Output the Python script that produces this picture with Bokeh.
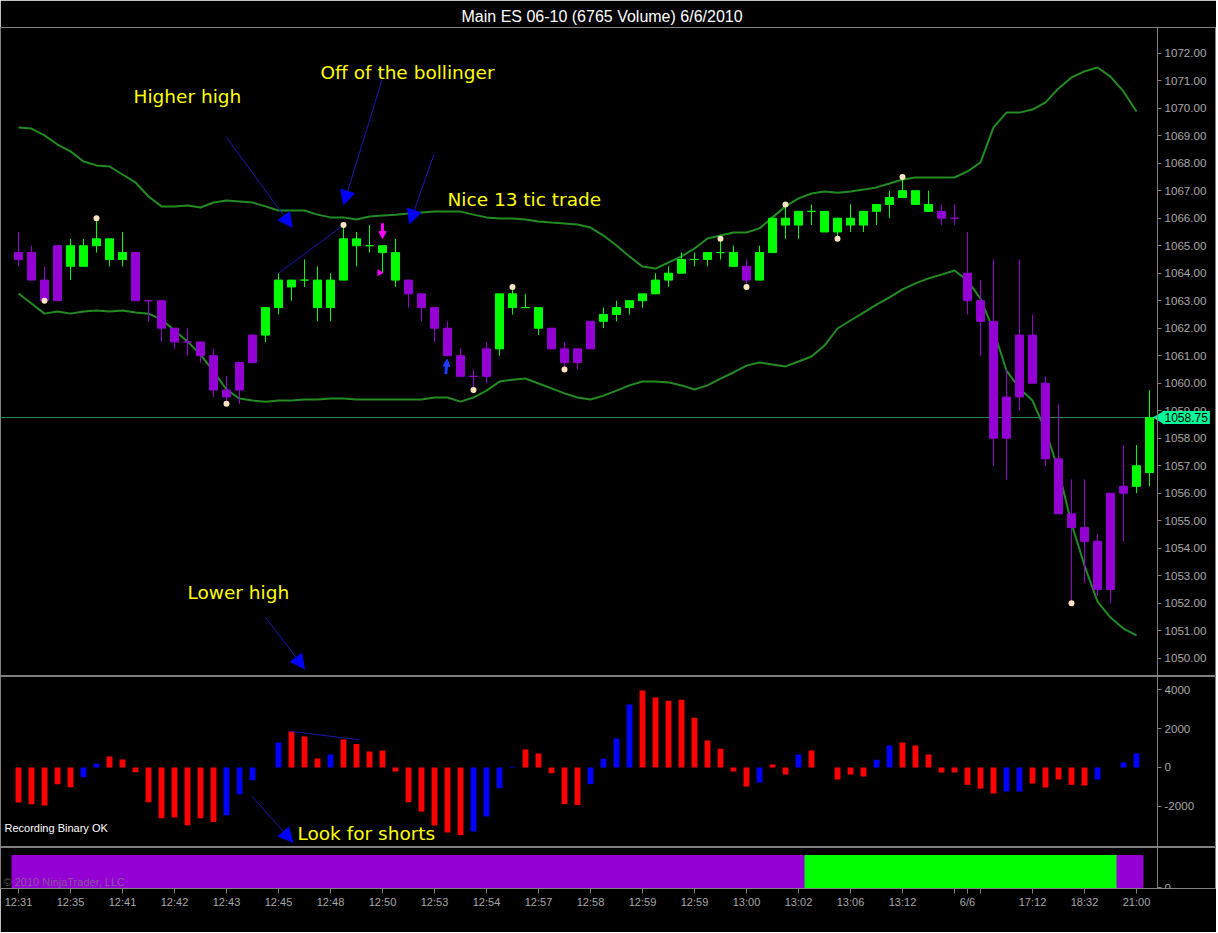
import math
from bokeh.plotting import figure
from bokeh.models import (ColumnDataSource, Range1d, FixedTicker, PrintfTickFormatter,
                          Label, Arrow, NormalHead)
from bokeh.layouts import column
from bokeh.core.properties import value
from bokeh.embed import file_html
from bokeh.resources import INLINE

# ---------------- data ----------------
title_text = "Main ES 06-10 (6765 Volume)  6/6/2010"

opens = [1064.75, 1064.75, 1063.75, 1065.0, 1064.25, 1064.25, 1065.0, 1064.5, 1064.5, 1064.75,
         1063.0, 1063.0, 1062.0, 1061.5, 1061.5, 1061.0, 1059.75, 1060.75, 1061.75, 1061.75,
         1062.75, 1063.5, 1063.75, 1062.75, 1062.75, 1063.75, 1065.0, 1065.0, 1064.75, 1063.75,
         1063.75, 1063.25, 1062.75, 1062.0, 1061.0, 1060.25, 1061.25, 1061.25, 1062.75, 1062.75,
         1062.0, 1062.0, 1061.25, 1061.25, 1062.25, 1062.25, 1062.5, 1062.75, 1063.0, 1063.25,
         1063.75, 1064.0, 1064.5, 1064.5, 1064.75, 1064.25, 1064.25, 1063.75, 1064.75, 1065.75,
         1065.75, 1066.25, 1065.5, 1065.5, 1065.75, 1065.75, 1066.25, 1066.5, 1066.75, 1066.5,
         1066.25, 1066.25, 1066.0, 1064.0, 1063.0, 1062.25, 1059.5, 1061.75, 1061.75, 1060.0,
         1057.25, 1055.25, 1054.75, 1054.25, 1056.0, 1056.25, 1056.25, 1056.75]
highs = [1065.5, 1065.0, 1064.25, 1065.0, 1065.25, 1065.25, 1066.0, 1065.25, 1065.5, 1064.75,
         1063.0, 1063.0, 1062.0, 1062.0, 1061.5, 1061.25, 1060.25, 1060.75, 1061.75, 1062.75,
         1064.0, 1063.75, 1064.5, 1064.25, 1064.0, 1065.75, 1065.5, 1065.75, 1065.0, 1065.25,
         1063.75, 1063.25, 1062.75, 1062.25, 1061.25, 1060.5, 1061.5, 1063.25, 1063.5, 1063.25,
         1062.75, 1062.0, 1061.5, 1061.25, 1062.25, 1062.75, 1063.0, 1063.0, 1063.25, 1064.0,
         1064.25, 1064.75, 1064.75, 1064.75, 1065.25, 1065.0, 1064.5, 1065.0, 1066.0, 1066.5,
         1066.25, 1066.5, 1066.25, 1066.0, 1066.5, 1066.25, 1066.5, 1067.0, 1067.5, 1067.0,
         1067.0, 1066.5, 1066.5, 1065.5, 1063.75, 1064.5, 1060.5, 1064.5, 1062.5, 1060.25,
         1059.25, 1056.5, 1056.5, 1054.5, 1056.0, 1057.75, 1057.75, 1059.75]
lows = [1064.25, 1063.75, 1063.0, 1063.0, 1063.75, 1064.25, 1064.75, 1064.25, 1064.25, 1063.0,
        1062.25, 1061.5, 1061.25, 1061.0, 1060.75, 1059.5, 1059.25, 1059.25, 1060.75, 1061.5,
        1062.5, 1063.0, 1063.5, 1062.25, 1062.25, 1063.75, 1064.25, 1064.75, 1064.0, 1063.5,
        1062.75, 1062.25, 1061.5, 1061.0, 1060.25, 1059.75, 1060.0, 1061.0, 1062.5, 1062.75,
        1061.75, 1061.25, 1060.5, 1060.5, 1061.25, 1062.0, 1062.25, 1062.5, 1062.75, 1063.25,
        1063.5, 1064.0, 1064.25, 1064.25, 1064.5, 1064.25, 1063.5, 1063.75, 1064.75, 1065.25,
        1065.25, 1065.75, 1065.5, 1065.25, 1065.5, 1065.5, 1065.75, 1066.0, 1066.75, 1066.5,
        1066.25, 1065.75, 1065.75, 1062.5, 1061.0, 1057.0, 1056.5, 1059.0, 1060.0, 1057.0,
        1055.25, 1052.0, 1052.75, 1052.25, 1052.0, 1054.25, 1056.0, 1056.25]
closes = [1064.5, 1063.75, 1063.0, 1063.0, 1065.0, 1065.0, 1065.25, 1065.25, 1064.75, 1063.0,
          1063.0, 1062.0, 1061.5, 1061.5, 1061.0, 1059.75, 1059.5, 1059.75, 1060.75, 1062.75,
          1063.75, 1063.75, 1063.75, 1063.75, 1063.75, 1065.25, 1065.25, 1065.0, 1065.0, 1064.75,
          1063.25, 1062.75, 1062.0, 1061.0, 1060.25, 1060.25, 1060.25, 1063.25, 1063.25, 1062.75,
          1062.75, 1061.25, 1060.75, 1060.75, 1061.25, 1062.5, 1062.75, 1063.0, 1063.25, 1063.75,
          1064.0, 1064.5, 1064.5, 1064.75, 1064.75, 1064.75, 1063.75, 1064.75, 1066.0, 1066.0,
          1066.25, 1066.25, 1066.25, 1066.0, 1066.0, 1066.25, 1066.5, 1066.75, 1067.0, 1067.0,
          1066.5, 1066.0, 1066.0, 1063.0, 1062.25, 1058.0, 1058.0, 1059.5, 1060.0, 1057.25,
          1055.25, 1054.75, 1054.25, 1052.5, 1052.5, 1056.0, 1057.0, 1058.75]
bar_up = [0, 0, 0, 0, 1, 1, 1, 1, 1, 0,
          0, 0, 0, 0, 0, 0, 0, 0, 0, 1,
          1, 1, 1, 1, 1, 1, 1, 1, 1, 1,
          0, 0, 0, 0, 0, 0, 0, 1, 1, 1,
          1, 0, 0, 0, 0, 1, 1, 1, 1, 1,
          1, 1, 1, 1, 1, 1, 0, 1, 1, 1,
          1, 1, 1, 1, 1, 1, 1, 1, 1, 1,
          1, 0, 0, 0, 0, 0, 0, 0, 0, 0,
          0, 0, 0, 0, 0, 0, 1, 1]

upper_band = [1069.30, 1069.26, 1069.01, 1068.68, 1068.43, 1068.06, 1067.92, 1067.88, 1067.59, 1067.30,
              1066.79, 1066.43, 1066.43, 1066.46, 1066.39, 1066.57, 1066.64, 1066.61, 1066.57, 1066.43,
              1066.28, 1066.28, 1066.28, 1066.13, 1066.03, 1066.03, 1065.95, 1066.06, 1066.10, 1066.13,
              1066.17, 1066.21, 1066.24, 1066.24, 1066.24, 1066.13, 1066.03, 1065.99, 1065.99, 1065.95,
              1065.88, 1065.84, 1065.81, 1065.77, 1065.66, 1065.37, 1065.01, 1064.61, 1064.24, 1064.17,
              1064.39, 1064.61, 1064.90, 1065.26, 1065.37, 1065.48, 1065.48, 1065.63, 1066.03, 1066.43,
              1066.72, 1066.90, 1066.97, 1066.93, 1066.97, 1067.04, 1067.12, 1067.26, 1067.41, 1067.48,
              1067.48, 1067.48, 1067.48, 1067.70, 1068.03, 1069.30, 1069.84, 1069.84, 1069.95, 1070.21,
              1070.72, 1071.12, 1071.34, 1071.48, 1071.15, 1070.61, 1069.88]
lower_band = [1063.26, 1062.90, 1062.53, 1062.61, 1062.53, 1062.61, 1062.64, 1062.61, 1062.64, 1062.57,
              1062.53, 1062.32, 1061.92, 1061.52, 1061.04, 1060.43, 1059.77, 1059.44, 1059.37, 1059.33,
              1059.37, 1059.37, 1059.41, 1059.41, 1059.44, 1059.44, 1059.41, 1059.41, 1059.41, 1059.41,
              1059.41, 1059.41, 1059.48, 1059.48, 1059.33, 1059.48, 1059.73, 1060.06, 1060.13, 1060.17,
              1059.99, 1059.81, 1059.63, 1059.48, 1059.41, 1059.55, 1059.73, 1059.92, 1060.06, 1060.06,
              1060.03, 1059.92, 1059.77, 1059.92, 1060.17, 1060.39, 1060.64, 1060.75, 1060.68, 1060.61,
              1060.79, 1060.97, 1061.37, 1061.99, 1062.28, 1062.57, 1062.86, 1063.12, 1063.41, 1063.63,
              1063.81, 1063.95, 1064.10, 1063.73, 1063.08, 1061.92, 1060.46, 1059.81, 1059.37, 1058.28,
              1056.83, 1054.90, 1053.37, 1052.06, 1051.48, 1051.08, 1050.83]

swing_idx = [2, 6, 16, 25, 35, 38, 42, 54, 56, 59, 63, 68, 81]
swing_side = ["L", "H", "L", "H", "L", "H", "L", "H", "L", "H", "L", "H", "L"]

hist_vals = [-1800, -1880, -1950, -855, -1010, -500, 190, 565, 410, -240,
             -1780, -2600, -2565, -2960, -2600, -2800, -2445, -1370, -650, 0,
             1280, 1850, 1590, 460, 670, 1435, 1200, 820, 870, -205,
             -1780, -2260, -2975, -3335, -3470, -3280, -2510, -1060, 35, 925,
             720, -290, -1880, -1930, -855, 445, 1490, 3230, 3950, 3590,
             3420, 3470, 2550, 1385, 960, -205, -975, -770, 155, -360,
             670, 870, 0, -615, -360, -460, 395, 1130, 1280, 1130,
             670, -255, -255, -890, -1080, -1335, -1230, -1230, -820, -1025,
             -615, -890, -925, -615, 0, 255, 720, 0]
hist_kind = ["r", "r", "r", "r", "r", "b", "b", "r", "r", "r",
             "r", "r", "r", "r", "r", "r", "b", "b", "b", "b",
             "b", "r", "r", "r", "b", "r", "r", "r", "r", "r",
             "r", "r", "r", "r", "r", "b", "b", "b", "b", "r",
             "r", "r", "r", "r", "b", "b", "b", "b", "r", "r",
             "r", "r", "r", "r", "r", "r", "r", "b", "r", "r",
             "b", "r", "r", "r", "r", "r", "b", "b", "r", "r",
             "r", "r", "r", "r", "r", "r", "b", "b", "r", "r",
             "r", "r", "r", "b", "b", "b", "b", "b"]

state_kind = ["p"] * 61 + ["g"] * 24 + ["p"] * 2

tick_pos = [0, 4, 8, 12, 16, 20, 24, 28, 32, 36, 40, 44, 48, 52, 56, 60, 64, 68, 72, 73, 74, 78, 82, 86]
tick_lbl = ["12:31", "12:35", "12:41", "12:42", "12:43", "12:45", "12:48", "12:50", "12:53", "12:54",
            "12:57", "12:58", "12:59", "12:59", "13:00", "13:02", "13:06", "13:12", "", "6/6", "",
            "17:12", "18:32", "21:00"]
price_ticks = list(range(1050, 1073))
hist_ticks = [-2000, 0, 2000, 4000]
state_ticks = [0]

# annotations (bar index, value)
note_text = ["Higher high", "Off of the bollinger", "Nice 13 tic trade", "Lower high"]
note_x = [8.85, 23.23, 33.0, 13.0]
note_y = [1070.43, 1071.30, 1066.68, 1052.39]
note_arrow_x0 = [15.96, 27.96, 31.97, 19.0]
note_arrow_y0 = [1068.97, 1071.03, 1068.34, 1051.49]
note_arrow_x1 = [21.05, 25.0, 30.08, 22.0]
note_arrow_y1 = [1065.67, 1066.49, 1065.80, 1049.62]
hist_note_text = ["Look for shorts"]
hist_note_x = [21.46]
hist_note_y = [-3385]
hist_arrow = dict(x0=[17.98], y0=[-1487], x1=[21.1], y1=[-3830])
hist_trend_x = [21, 26.2]
hist_trend_y = [1850, 1420]
trend_idx = [20, 25]
sell_arrow = dict(x=28, y0=1065.82, y1=1065.26)
sell_tri = dict(x=27.77, y=1064.02)
buy_arrow = dict(x=32.97, y0=1060.33, y1=1060.87)

# ---------------- styles ----------------
GREEN = "#00FF00"
PURPLE = "#9400D3"
BAND = "#228B22"
DOT = "#FFE4C4"
RED = "#FF0000"
BLUE = "#0000FF"
NAVY = "#1818B0"
YEL = "#FFFF00"
AX = "#808080"
LB = "#A8A8A8"
TAG = "#00FA9A"
FONT = "Liberation Sans"

FW = 1216
X0 = -1.385          # left edge of the chart (bar units)
XAXIS = 87.615       # where the price scale sits
XR = Range1d(X0, 92.154)


def base(fh, yr, ticks, fmt, top=0, bottom=0, xaxis=False, title=None):
    kw = dict(frame_width=FW, frame_height=fh, x_range=XR, y_range=yr,
              output_backend="svg", toolbar_location=None,
              x_axis_location="below" if xaxis else None, y_axis_location="right",
              min_border_left=0, min_border_right=0, min_border_top=top,
              min_border_bottom=bottom, background_fill_color="black",
              border_fill_color="black", outline_line_color=AX)
    if title:
        kw["title"] = title
    f = figure(**kw)
    f.grid.visible = False
    ya = f.yaxis[0]
    ya.fixed_location = XAXIS
    ya.ticker = FixedTicker(ticks=ticks)
    ya.formatter = PrintfTickFormatter(format=fmt)
    ya.axis_line_color = AX
    ya.major_tick_line_color = AX
    ya.minor_tick_line_color = None
    ya.major_tick_out = 4
    ya.major_tick_in = 0
    ya.major_label_text_color = LB
    ya.major_label_text_font = FONT
    ya.major_label_text_font_size = "11.6px"
    ya.major_label_standoff = 3
    return f


# ---------------- main price panel ----------------
p1 = base(649, Range1d(1049.335, 1072.935), price_ticks, "%.2f", top=27, title=title_text)
p1.title.text_color = "white"
p1.title.text_font = FONT
p1.title.text_font_size = "16px"
p1.title.text_font_style = "normal"
p1.title.align = "left"
p1.title.offset = 461
p1.title.standoff = 6

n = len(opens)
xs = list(range(n))
csrc = ColumnDataSource(dict(
    x=xs, h=highs, l=lows,
    top=[max(o, c) for o, c in zip(opens, closes)],
    bot=[min(o, c) for o, c in zip(opens, closes)],
    col=[GREEN if u else PURPLE for u in bar_up]))

p1.line(list(range(len(upper_band))), upper_band, line_color=BAND, line_width=2)
p1.line(list(range(len(lower_band))), lower_band, line_color=BAND, line_width=2)
last = closes[-1]
p1.segment(x0=[X0], y0=[last], x1=[XAXIS], y1=[last], line_color="#2E8B57", line_width=1)

p1.segment(x0="x", y0="l", x1="x", y1="h", line_color="col", line_width=1, source=csrc)
p1.vbar(x="x", top="top", bottom="bot", width=0.62, fill_color="col", line_color="col",
        line_width=1, source=csrc)

p1.line(trend_idx, [highs[i] for i in trend_idx], line_color=NAVY, line_width=1)

dot_y = [highs[i] if s == "H" else lows[i] for i, s in zip(swing_idx, swing_side)]
p1.scatter(swing_idx, dot_y, size=6, fill_color=DOT, line_color=None)

asrc = ColumnDataSource(dict(x0=note_arrow_x0, y0=note_arrow_y0, x1=note_arrow_x1, y1=note_arrow_y1))
p1.add_layout(Arrow(x_start="x0", y_start="y0", x_end="x1", y_end="y1", source=asrc,
                    line_color=NAVY, line_width=1,
                    end=NormalHead(size=14, fill_color=BLUE, line_color=BLUE)))

p1.add_layout(Arrow(x_start=sell_arrow["x"], y_start=sell_arrow["y0"], x_end=sell_arrow["x"],
                    y_end=sell_arrow["y1"], line_color="#FF00FF", line_width=3,
                    end=NormalHead(size=7, fill_color="#FF00FF", line_color="#FF00FF")))
p1.scatter([sell_tri["x"]], [sell_tri["y"]], marker="triangle", angle=-math.pi / 2,
           size=7, fill_color="#FF00FF", line_color=None)
p1.add_layout(Arrow(x_start=buy_arrow["x"] - 0.1, y_start=buy_arrow["y0"], x_end=buy_arrow["x"],
                    y_end=buy_arrow["y1"], line_color="#1E3CFF", line_width=3,
                    end=NormalHead(size=7, fill_color="#1E3CFF", line_color="#1E3CFF")))

p1.text(x=note_x, y=note_y, text=note_text, text_color=YEL, text_font=value("DejaVu Sans"),
        text_font_size="18.5px", text_baseline="middle", text_align="left")

# last-price tag on the price scale
p1.scatter([XAXIS + 0.25], [last], marker="triangle", angle=math.pi / 2, size=14,
           fill_color=TAG, line_color=None)
p1.add_layout(Label(x=XAXIS, y=last, x_offset=5, text="%.2f" % last,
                    text_color="black", text_font=FONT, text_font_size="12px",
                    text_baseline="middle", text_align="left",
                    background_fill_color=TAG, padding=2))

# ---------------- histogram panel ----------------
p2 = base(171, Range1d(-4103, 4667), hist_ticks, "%d")
hsrc = ColumnDataSource(dict(x=list(range(len(hist_vals))), v=hist_vals,
                             col=[RED if k == "r" else BLUE for k in hist_kind]))
p2.vbar(x="x", top="v", bottom=0, width=0.45, fill_color="col", line_color=None, source=hsrc)
p2.line(hist_trend_x, hist_trend_y, line_color=NAVY, line_width=1)
p2.add_layout(Arrow(x_start=hist_arrow["x0"][0], y_start=hist_arrow["y0"][0],
                    x_end=hist_arrow["x1"][0], y_end=hist_arrow["y1"][0],
                    line_color=NAVY, line_width=1,
                    end=NormalHead(size=14, fill_color=BLUE, line_color=BLUE)))
p2.text(x=hist_note_x, y=hist_note_y, text=hist_note_text, text_color=YEL,
        text_font=value("DejaVu Sans"), text_font_size="18.5px", text_baseline="middle")
p2.add_layout(Label(x=-1.08, y=-3128, text="Recording Binary OK", text_color="white",
                    text_font=FONT, text_font_size="11px", text_baseline="middle"))

# ---------------- state panel ----------------
p3 = base(41, Range1d(-0.031, 1.25), state_ticks, "%d", bottom=44, xaxis=True)
p3.yaxis[0].major_label_text_baseline = "alphabetic"
ssrc = ColumnDataSource(dict(x=list(range(len(state_kind))),
                             col=[GREEN if k == "g" else PURPLE for k in state_kind]))
p3.vbar(x="x", top=1, bottom=0, width=1.0, fill_color="col", line_color="col",
        line_width=1, source=ssrc)
p3.add_layout(Label(x=-1.15, y=0.16, text="\u00a9 2010 NinjaTrader, LLC", text_color="#808080",
                    text_alpha=0.7, text_font=FONT, text_font_size="11px",
                    text_baseline="middle"))
xa = p3.xaxis[0]
xa.ticker = FixedTicker(ticks=tick_pos)
xa.major_label_overrides = {t: l for t, l in zip(tick_pos, tick_lbl)}
xa.axis_line_color = AX
xa.major_tick_line_color = AX
xa.minor_tick_line_color = None
xa.major_tick_out = 5
xa.major_tick_in = 0
xa.major_label_text_color = LB
xa.major_label_text_font = FONT
xa.major_label_text_font_size = "11px"
xa.major_label_standoff = 2

layout = column(p1, p2, p3, spacing=0)
open("out.html", "w").write(file_html(layout, INLINE))
